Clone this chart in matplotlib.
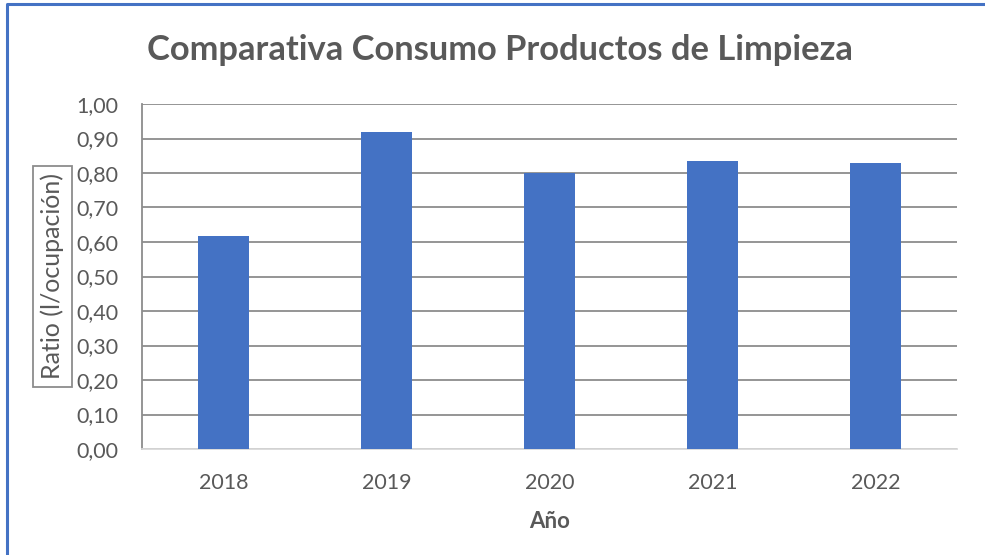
import matplotlib
matplotlib.use("Agg")
import matplotlib.pyplot as plt
from matplotlib.ticker import FuncFormatter, MultipleLocator
from matplotlib.lines import Line2D

years = ["2018", "2019", "2020", "2021", "2022"]
ratios = [0.618, 0.918, 0.80, 0.836, 0.829]
title = "Comparativa Consumo Productos de Limpieza"
xlabel = "Año"
ylabel = "Ratio (l/ocupación)"

plt.rcParams['font.family'] = ['Lato', 'DejaVu Sans']
TXT = "#595959"
BAR = "#4472C4"

W, H = 985, 555
fig = plt.figure(figsize=(W / 100, H / 100), dpi=100)
fig.patch.set_facecolor("white")

L, R, T, B = 142, 957, 104, 449
ax = fig.add_axes([L / W, 1 - B / H, (R - L) / W, (B - T) / H])

x = range(len(years))
ax.bar(x, ratios, width=0.31, color=BAR, zorder=3)
ax.set_xlim(-0.5, len(years) - 0.5)
ax.set_ylim(0, 1.0)
ax.yaxis.set_major_locator(MultipleLocator(0.1))
ax.yaxis.set_major_formatter(FuncFormatter(lambda v, p: f"{v:.2f}".replace(".", ",")))
ax.set_xticks(list(x))
ax.set_xticklabels(years)
ax.grid(axis="y", color="#8C8C8C", linewidth=1.3, zorder=0)
ax.set_axisbelow(True)
for s in ["top", "right"]:
    ax.spines[s].set_visible(False)
ax.spines["left"].set_color("#8C8C8C")
ax.spines["left"].set_linewidth(1.3)
ax.spines["bottom"].set_color("#D9D9D9")
ax.spines["bottom"].set_linewidth(1.3)
ax.tick_params(axis="both", length=0, labelsize=15.5, labelcolor=TXT)
ax.tick_params(axis="y", pad=17)
ax.tick_params(axis="x", pad=17)

fig.text(500 / W, 1 - 50 / H, title, ha="center", va="center",
         fontsize=24.8, fontweight="bold", color=TXT)
fig.text((L + R) / 2 / W, 1 - 521 / H, xlabel, ha="center", va="center",
         fontsize=16, fontweight="bold", color=TXT)
fig.text(52.5 / W, 1 - 276 / H, ylabel, ha="center", va="center", rotation=90,
         fontsize=18, color=TXT,
         bbox=dict(boxstyle="square,pad=0.3", facecolor="white", edgecolor="#8C8C8C", linewidth=1.3))

fig.add_artist(Line2D([7 / W, 7 / W, 1], [0.004, 1 - 4 / H, 1 - 4 / H],
                      transform=fig.transFigure, color=BAR, linewidth=2.2))

fig.savefig("out.png", dpi=100)
